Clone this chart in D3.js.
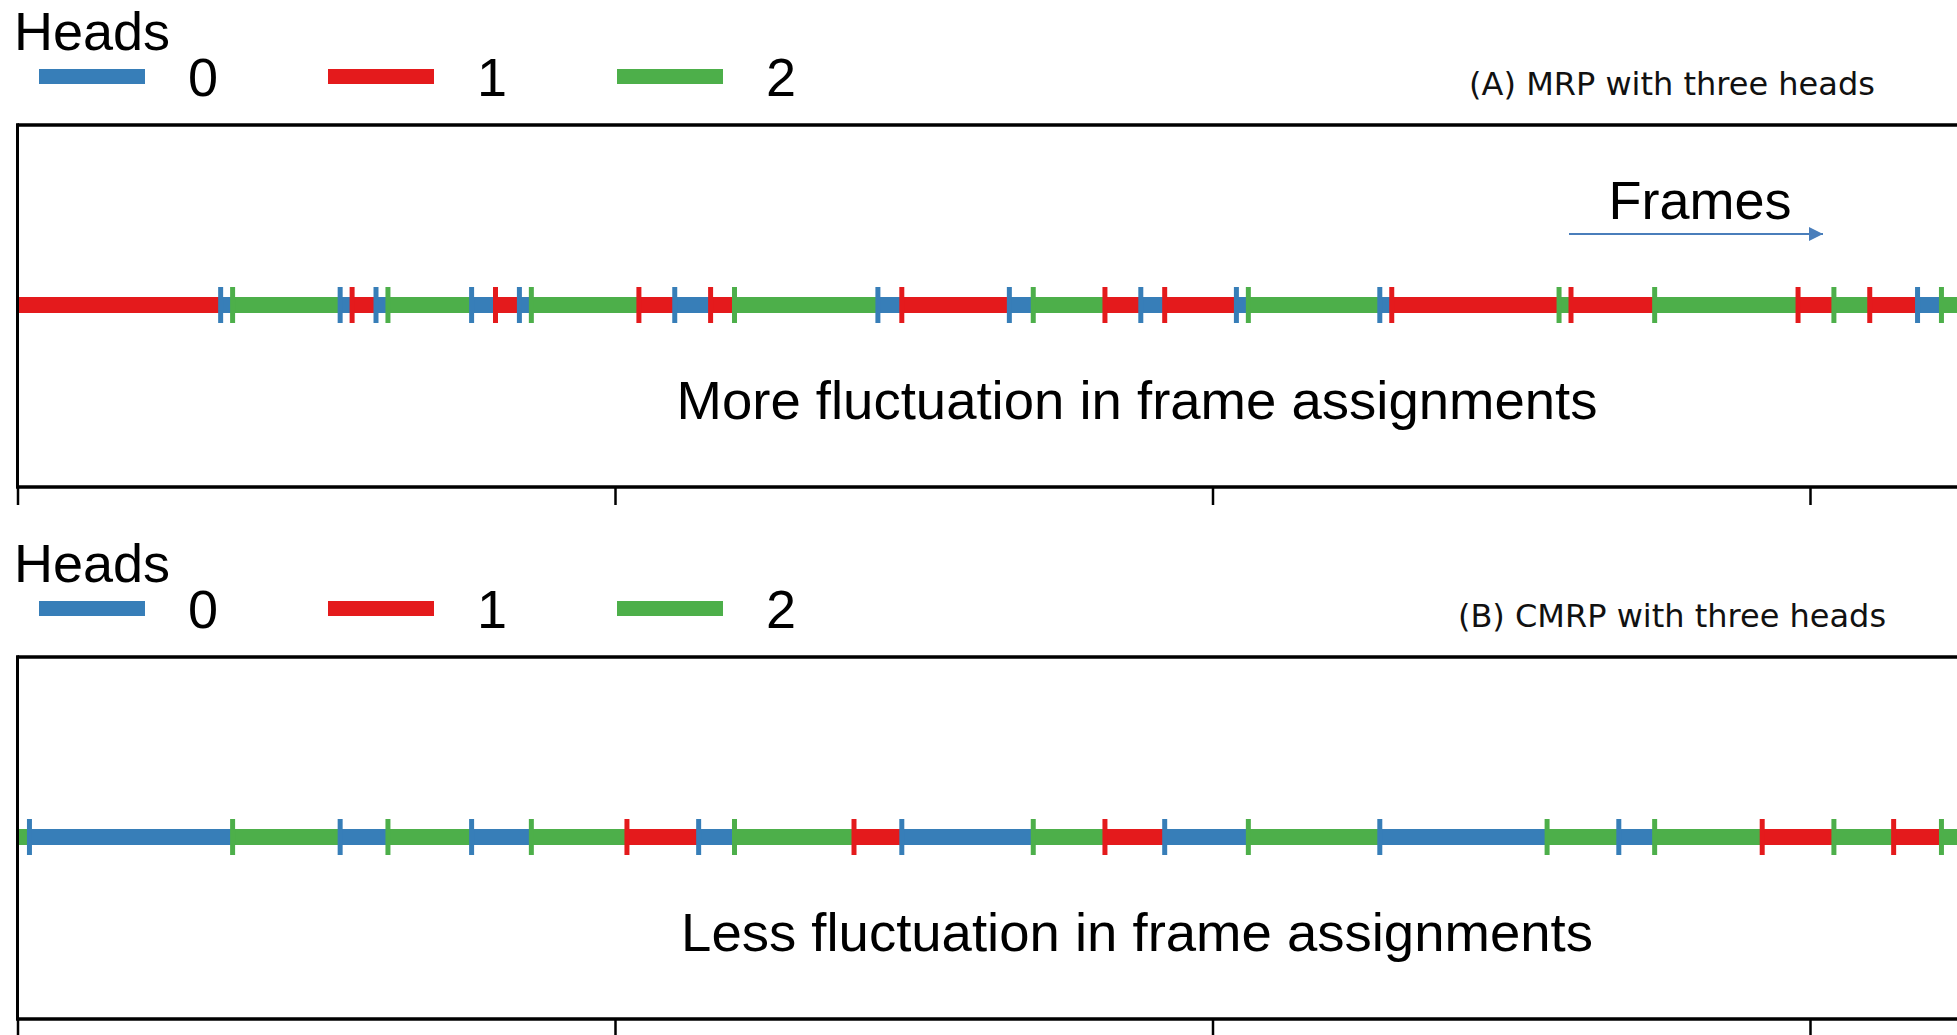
<!DOCTYPE html>
<html>
<head>
<meta charset="utf-8">
<script src="https://cdn.jsdelivr.net/npm/d3@7"></script>
<style>
  html, body { margin: 0; padding: 0; background: #fff; }
  svg { display: block; }
</style>
</head>
<body>
<svg id="chart" width="1957" height="1035"></svg>
<script>
// Head ids and their colours
const heads = [0, 1, 2];
const headColors = ["#377eb8", "#e41a1c", "#4daf4a"];

// MRP: frame index where each run starts, and the head assigned to that run
const mrpStarts = [0, 17, 18, 27, 28, 30, 31, 38, 40, 42, 43, 52, 55, 58, 60, 72, 74, 83, 85, 91, 94, 96, 102, 103, 114, 115, 129, 130, 137, 149, 152, 155, 159, 161];
const mrpHeads  = [1, 0, 2, 0, 1, 0, 2, 0, 1, 0, 2, 1, 0, 1, 2, 0, 1, 0, 2, 1, 0, 1, 0, 2, 0, 1, 2, 1, 2, 1, 2, 1, 0, 2];

// CMRP: same layout
const cmrpStarts = [0, 1, 18, 27, 31, 38, 43, 51, 57, 60, 70, 74, 85, 91, 96, 103, 114, 128, 134, 137, 146, 152, 157, 161];
const cmrpHeads  = [2, 0, 2, 0, 2, 0, 2, 1, 0, 2, 1, 0, 2, 1, 0, 2, 0, 2, 0, 2, 1, 2, 1, 2];

const frameEnd = 170;
const frameTicks = [0, 50, 100, 150];

const panels = [
  { title: "(A) MRP with three heads", note: "More fluctuation in frame assignments",
    starts: mrpStarts, ids: mrpHeads, arrow: true },
  { title: "(B) CMRP with three heads", note: "Less fluctuation in frame assignments",
    starts: cmrpStarts, ids: cmrpHeads, arrow: false }
];

const svg = d3.select("#chart");
const x = d3.scaleLinear().domain([0, frameEnd]).range([17.5, 17.5 + frameEnd * 11.95]);
const color = d3.scaleOrdinal().domain(heads).range(headColors);

const panelOffset = 532;
const sans = "'Liberation Sans', Arial, sans-serif";

const defs = svg.append("defs");
defs.append("marker")
  .attr("id", "arrowhead")
  .attr("viewBox", "0 0 10 10")
  .attr("refX", 10).attr("refY", 5)
  .attr("markerUnits", "userSpaceOnUse")
  .attr("markerWidth", 20).attr("markerHeight", 14)
  .attr("orient", "auto")
  .append("path").attr("d", "M0,0 L10,5 L0,10 Z").attr("fill", "#4a7ebb");

panels.forEach((p, i) => {
  const g = svg.append("g").attr("transform", `translate(0,${i * panelOffset})`);

  // legend
  g.append("text").attr("x", 14).attr("y", 50)
    .attr("font-family", sans).attr("font-size", 54).attr("fill", "#000")
    .text("Heads");
  const leg = g.selectAll("g.leg").data(heads).join("g")
    .attr("class", "leg")
    .attr("transform", (d, k) => `translate(${39 + k * 289},0)`);
  leg.append("rect").attr("x", 0).attr("y", 69).attr("width", 106).attr("height", 15)
    .attr("fill", d => color(d));
  leg.append("text").attr("x", 149).attr("y", 96)
    .attr("font-family", sans).attr("font-size", 54).attr("fill", "#000")
    .text(d => d);

  g.append("text").attr("x", 1672).attr("y", 95).attr("text-anchor", "middle")
    .attr("font-family", "'DejaVu Sans', sans-serif").attr("font-size", 32).attr("fill", "#111")
    .text(p.title);

  const top = 125, bottom = 487, rowY = 305;

  // runs of frames coloured by the assigned head
  const runs = p.starts.map((s, k) => ({
    start: s,
    end: k + 1 < p.starts.length ? p.starts[k + 1] : frameEnd,
    head: p.ids[k]
  }));
  g.append("g").selectAll("line").data(runs).join("line")
    .attr("x1", d => x(d.start)).attr("x2", d => x(d.end))
    .attr("y1", rowY).attr("y2", rowY)
    .attr("stroke", d => color(d.head)).attr("stroke-width", 16);
  // boundary marks where the assigned head changes
  g.append("g").selectAll("line").data(runs.filter(d => d.start > 0)).join("line")
    .attr("x1", d => x(d.start)).attr("x2", d => x(d.start))
    .attr("y1", rowY - 18).attr("y2", rowY + 18)
    .attr("stroke", d => color(d.head)).attr("stroke-width", 5);

  // frame axis
  const axis = d3.axisBottom(x).tickValues(frameTicks).tickSize(18).tickFormat("");
  const ax = g.append("g").attr("transform", `translate(0,${bottom})`).call(axis);
  ax.select(".domain").remove();
  ax.selectAll(".tick line").attr("stroke", "#000").attr("stroke-width", 2.5);

  // spines
  g.append("line").attr("x1", 17.5).attr("x2", 1957).attr("y1", top).attr("y2", top)
    .attr("stroke", "#000").attr("stroke-width", 3.5);
  g.append("line").attr("x1", 17.5).attr("x2", 1957).attr("y1", bottom).attr("y2", bottom)
    .attr("stroke", "#000").attr("stroke-width", 3.5);
  g.append("line").attr("x1", 17.5).attr("x2", 17.5).attr("y1", top - 1.75).attr("y2", bottom + 1.75)
    .attr("stroke", "#000").attr("stroke-width", 3);

  g.append("text").attr("x", 1137).attr("y", 419).attr("text-anchor", "middle")
    .attr("font-family", sans).attr("font-size", 54.5).attr("fill", "#000")
    .text(p.note);

  if (p.arrow) {
    g.append("text").attr("x", 1700).attr("y", 219).attr("text-anchor", "middle")
      .attr("font-family", sans).attr("font-size", 54).attr("fill", "#000")
      .text("Frames");
    g.append("line").attr("x1", 1569).attr("x2", 1823).attr("y1", 234).attr("y2", 234)
      .attr("stroke", "#4a7ebb").attr("stroke-width", 2)
      .attr("marker-end", "url(#arrowhead)");
  }
});
</script>
</body>
</html>
